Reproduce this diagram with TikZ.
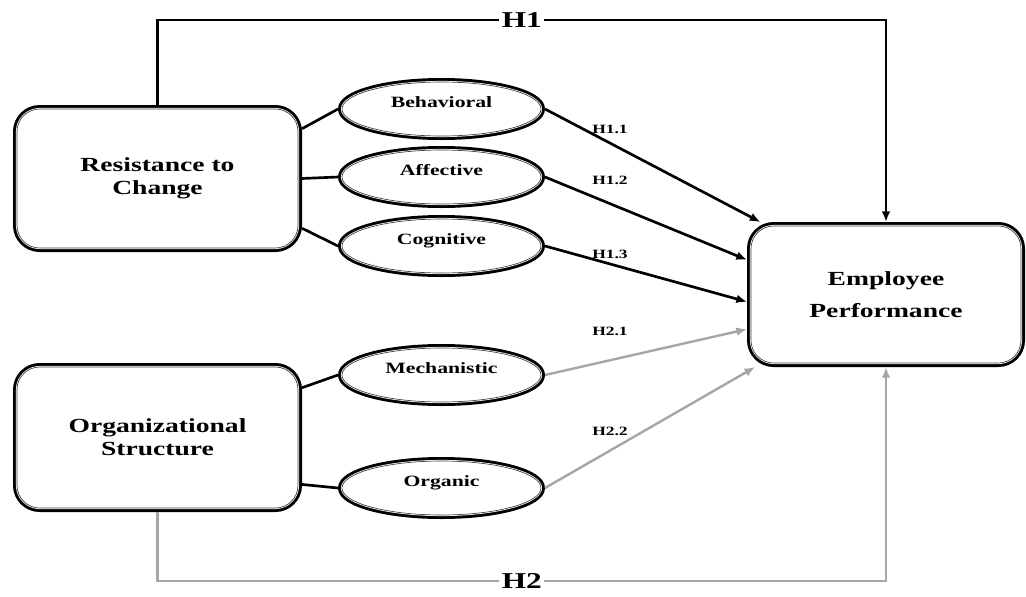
\documentclass[tikz,border=0pt]{standalone}
\usepackage{fontspec}
\setmainfont{Liberation Serif}[FakeStretch=1.38]
\usetikzlibrary{shapes.geometric,arrows.meta}
\definecolor{lgray}{HTML}{A6A6A6}
\begin{document}
\begin{tikzpicture}[x=0.75pt,y=-0.75pt,
 dbl/.style={preaction={draw,black,line width=6pt},preaction={draw,white,line width=1.6pt},fill=white,draw=black!75,line width=0.5pt,outer sep=3pt,text=black},
 bigbox/.style={dbl,rectangle,rounded corners=17pt,align=center,font=\bfseries\fontsize{15}{17.5}\selectfont},
 oval/.style={dbl,ellipse,minimum width=149.25pt,minimum height=40.5pt,inner sep=0pt,text height=0pt,text depth=2.8pt,font=\bfseries\fontsize{11.8}{14}\selectfont},
 link/.style={line width=2pt},
 blk/.style={line width=2pt,-{Latex[length=8pt,width=6.5pt]}},
 gry/.style={line width=1.8pt,lgray,-{Latex[length=8pt,width=6.5pt]}},
 hlab/.style={font=\bfseries\fontsize{9.5}{11}\selectfont},
 hbig/.style={font=\bfseries\fontsize{17}{20}\selectfont,fill=white,inner sep=2pt,text=black}
]
\useasboundingbox (0,0) rectangle (1026,597);

\node[bigbox,minimum width=210.75pt,minimum height=104.25pt] (rtc) at (157.5,178.5) {Resistance to\\Change};
\node[bigbox,minimum width=210.75pt,minimum height=105.75pt] (org) at (157.5,437.5) {Organizational\\Structure};
\node[bigbox,minimum width=202.5pt,minimum height=102.75pt] (ep) at (886,294.5) {Employee\\[6pt]Performance};

\node[oval] (beh) at (441.5,109) {Behavioral};
\node[oval] (aff) at (441.5,177) {Affective};
\node[oval] (cog) at (441.5,246) {Cognitive};
\node[oval] (mech) at (441.5,375) {Mechanistic};
\node[oval] (orgn) at (441.5,488) {Organic};

\draw[link] (rtc.19) -- (beh.west);
\draw[link] (rtc.east) -- (aff.west);
\draw[link] (rtc.-19) -- (cog.west);
\draw[link] (org.19) -- (mech.west);
\draw[link] (org.-18) -- (orgn.west);

\draw[blk] (beh.east) -- (ep.150.5);
\draw[blk] (aff.east) -- (ep.166);
\draw[blk] (cog.east) -- (ep.183.5);
\draw[gry] (mech.east) -- (ep.194.3);
\draw[gry] (orgn.east) -- (ep.209.9);

\node[hlab] (l11) at (610,129) {H1.1};
\node[hlab] (l12) at (610,180) {H1.2};
\node[hlab] (l13) at (610,254) {H1.3};
\node[hlab] (l21) at (610,331) {H2.1};
\node[hlab] (l22) at (610,431) {H2.2};

\draw[blk] (rtc.north) -- ++(0,-85) -| node[pos=0.25,hbig] (h1) {H1} (ep.north);
\draw[gry] (org.south) -- ++(0,69) -| node[pos=0.25,hbig] (h2) {H2} (ep.south);
\end{tikzpicture}
\end{document}
